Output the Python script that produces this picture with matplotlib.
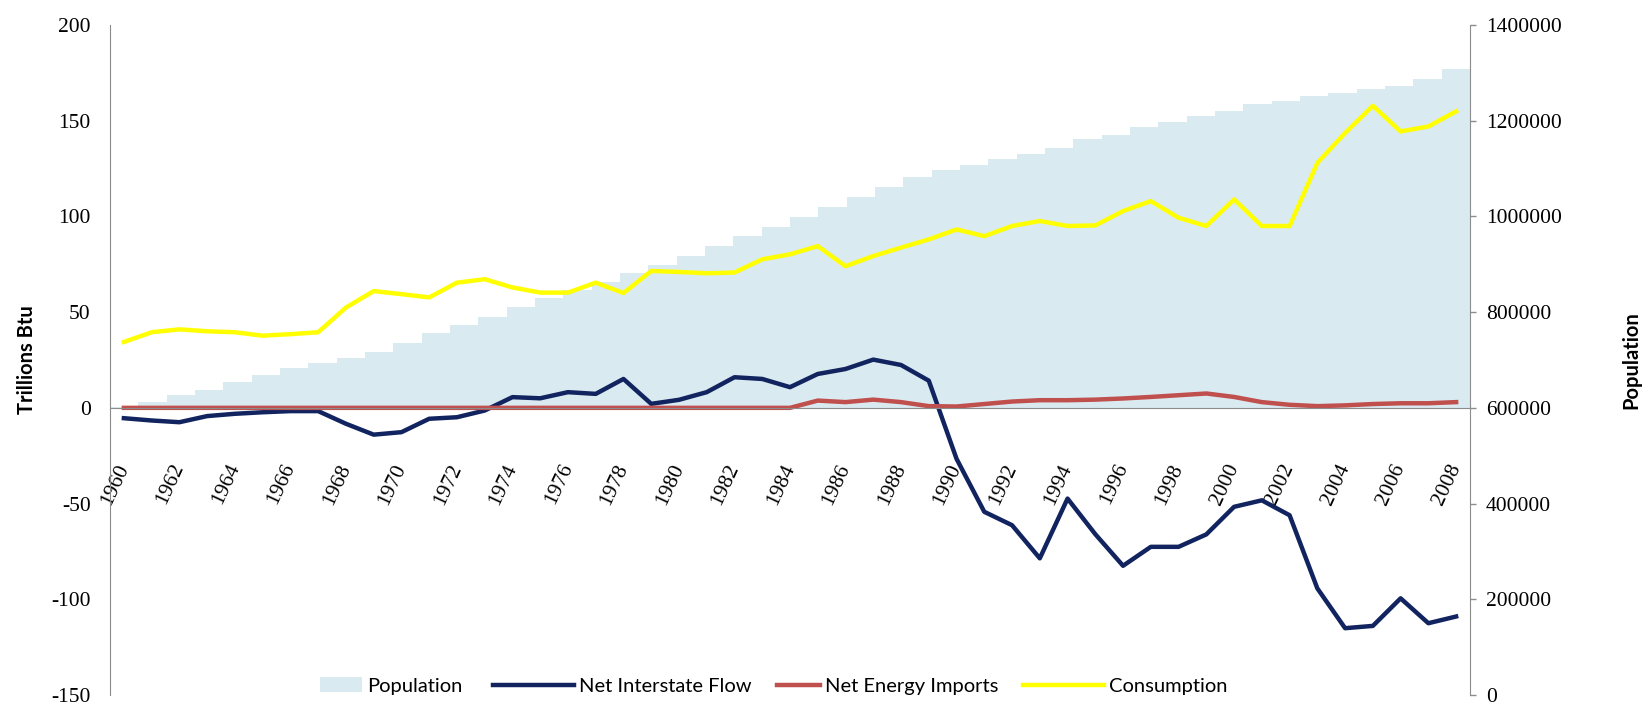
import numpy as np
import matplotlib
matplotlib.use('Agg')
from matplotlib import pyplot as plt
from matplotlib.patches import Patch
from matplotlib.lines import Line2D

# Data
years = list(range(1960, 2009))

consumption = [34.4, 39.5, 41.0, 40.0, 39.5, 37.7, 38.5, 39.5, 52.4, 61.0,
               59.4, 57.7, 65.4, 67.2, 62.9, 60.2, 60.2, 65.4, 60.0, 71.5,
               71.0, 70.3, 70.7, 77.6, 80.2, 84.5, 74.0, 79.3, 83.7, 88.0,
               93.2, 89.7, 95.0, 97.6, 95.0, 95.3, 102.8, 108.0, 99.3, 95.0,
               108.9, 95.0, 95.0, 128.0, 143.6, 157.8, 144.4, 147.0, 154.9]

net_interstate = [-5.4, -6.6, -7.5, -4.3, -3.1, -2.3, -1.7, -1.7, -8.3, -14.0,
                  -12.7, -5.7, -4.9, -1.4, 5.6, 5.0, 8.2, 7.3, 15.1, 2.1,
                  4.2, 8.2, 16.0, 15.1, 10.8, 17.7, 20.3, 25.2, 22.4, 14.2,
                  -26.6, -54.3, -61.3, -78.6, -47.4, -66.0, -82.5, -72.6, -72.6, -66.1,
                  -51.7, -48.3, -56.1, -94.3, -115.1, -113.9, -99.5, -112.5, -109.0]

net_imports = [0] * 25 + [3.8, 3.0, 4.3, 3.0, 0.9,
                          0.7, 2.0, 3.3, 4.0, 4.0, 4.3, 4.9, 5.7, 6.6, 7.5,
                          5.7, 3.0, 1.6, 0.9, 1.3, 2.0, 2.4, 2.4, 3.0]

# population columns (48 of them, on the secondary axis)
population = [602000, 613000, 627000, 637000, 653000, 669000, 683000, 693000,
              704000, 717000, 735000, 757000, 773000, 790000, 811000, 829000,
              846000, 864000, 881000, 898000, 917000, 938000, 959000, 978000,
              998000, 1020000, 1041000, 1061000, 1082000, 1098000, 1107000, 1121000,
              1130000, 1144000, 1161000, 1170000, 1186000, 1198000, 1210000, 1221000,
              1235000, 1241000, 1252000, 1258000, 1266000, 1273000, 1288000, 1308000]
POP_BASE = 600000

left_ticks = list(range(-150, 201, 50))
right_ticks = list(range(0, 1400001, 200000))

NAVY = '#12245f'
RED = '#c0504d'
YELLOW = '#ffff00'
POP_BLUE = '#daeaf1'
GRAY = '#8c8c8c'

TICK_FONT = 'Liberation Serif'
LABEL_FONT = 'Lato'
TICK_SIZE = 15.5
LABEL_SIZE = 14.5

fig = plt.figure(figsize=(16.5, 7.06), dpi=100)
ax = fig.add_axes([110 / 1650, 1 - 695 / 706, 1360 / 1650, 670 / 706])
ax2 = ax.twinx()

# spines first (moving a spine resets the ticks)
for a in (ax, ax2):
    a.spines['top'].set_visible(False)
    for s in a.spines.values():
        s.set_color(GRAY)
ax.spines['bottom'].set_position(('data', 0))
ax.spines['right'].set_visible(False)
ax2.spines['left'].set_visible(False)
ax2.spines['bottom'].set_visible(False)

# Population columns behind everything
n_cat = len(years)
w = n_cat / len(population)
lefts = [-0.5 + k * w for k in range(len(population))]
ax2.bar(lefts, [p - POP_BASE for p in population], width=w, bottom=POP_BASE,
        align='edge', color=POP_BLUE, linewidth=0)
ax2.set_ylim(0, 1400000)
ax2.set_yticks(right_ticks)
ax2.set_yticklabels([str(t) for t in right_ticks], fontfamily=TICK_FONT, fontsize=TICK_SIZE)
ax2.tick_params(axis='y', direction='out', length=4.5, width=1, color=GRAY, pad=7)
ax2.set_ylabel('Population', fontfamily=LABEL_FONT, fontsize=LABEL_SIZE, fontweight='bold', labelpad=43)

# Lines on top
ax.set_zorder(ax2.get_zorder() + 1)
ax.patch.set_visible(False)
x = np.arange(n_cat)
ax.plot(x, net_interstate, color=NAVY, linewidth=3.2, solid_joinstyle='round')
ax.plot(x, net_imports, color=RED, linewidth=3.2, solid_joinstyle='round')
ax.plot(x, consumption, color=YELLOW, linewidth=3.2, solid_joinstyle='round')

ax.set_xlim(-0.5, n_cat - 0.5)
ax.set_ylim(-150, 200)
ax.set_yticks(left_ticks)
ax.set_yticklabels([str(t) for t in left_ticks], fontfamily=TICK_FONT, fontsize=TICK_SIZE)
ax.tick_params(axis='y', length=0, pad=14)
ax.set_ylabel('Trillions Btu', fontfamily=LABEL_FONT, fontsize=LABEL_SIZE, fontweight='bold', labelpad=10)

ax.set_xticks(x[::2])
ax.set_xticklabels([str(y) for y in years[::2]], fontfamily=TICK_FONT, fontsize=TICK_SIZE,
                   rotation=65, ha='right', va='center', rotation_mode='anchor')
ax.tick_params(axis='x', length=0, pad=41)

# Legend along the bottom: one entry per legend so each handle keeps its own length
legend_items = [
    (Patch(facecolor=POP_BLUE, edgecolor='none'), 'Population', 320, 2.1),
    (Line2D([], [], color=NAVY, linewidth=3.2), 'Net Interstate Flow', 493, 4.0),
    (Line2D([], [], color=RED, linewidth=3.2), 'Net Energy Imports', 777, 2.15),
    (Line2D([], [], color=YELLOW, linewidth=3.2), 'Consumption', 1023, 4.0),
]
for handle, label, left_px, hlen in legend_items:
    fig.legend([handle], [label], loc='center left', bbox_to_anchor=(left_px / 1650, 1 - 686 / 706),
               frameon=False, prop={'family': LABEL_FONT, 'size': LABEL_SIZE},
               handlelength=hlen, handleheight=0.75, handletextpad=0.25,
               borderpad=0, borderaxespad=0)

fig.savefig('out.png', dpi=100)
